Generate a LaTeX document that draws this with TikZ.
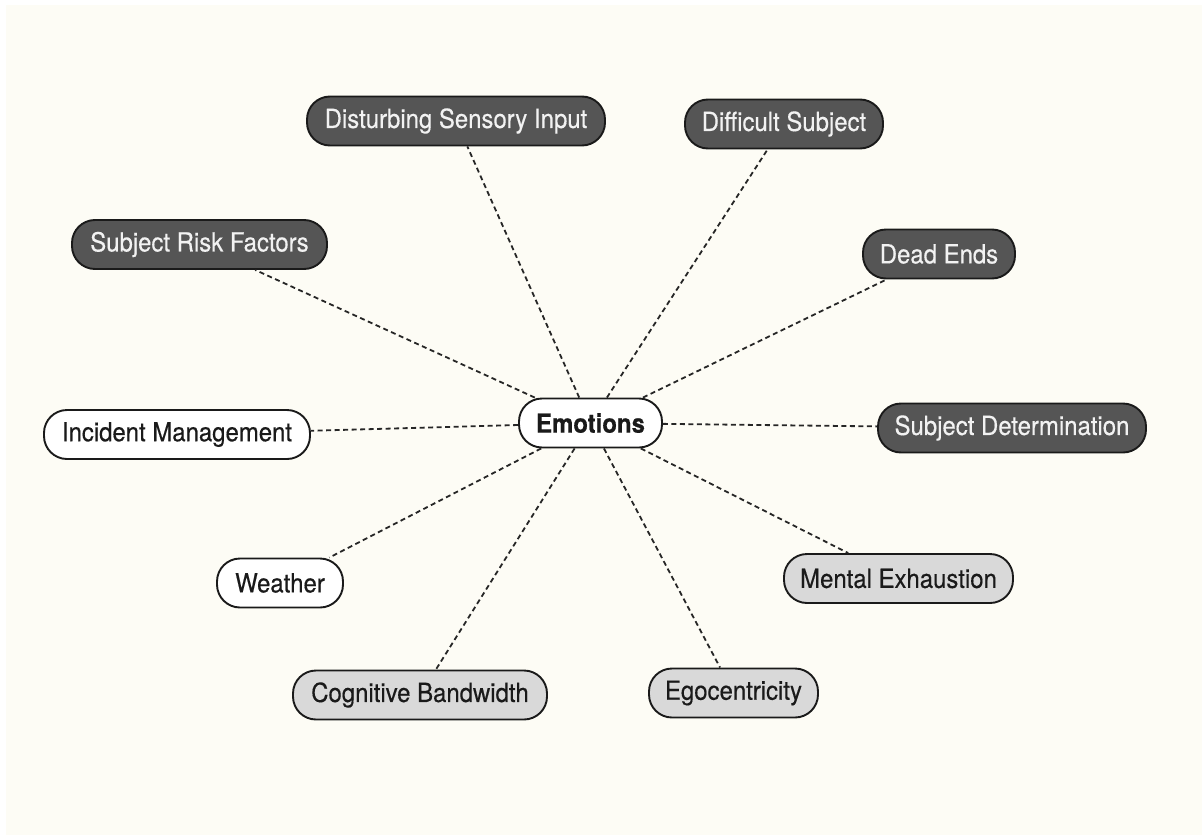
\documentclass[tikz,border=0pt]{standalone}
\usepackage{fontspec}
\setmainfont{TeX Gyre Heros}[FakeStretch=0.91, FakeBold=0.35]
\definecolor{paper}{HTML}{FDFCF5}
\definecolor{darkfill}{HTML}{555555}
\definecolor{lightfill}{HTML}{D9D9D9}
\definecolor{ink}{HTML}{1A1A1A}
\definecolor{linkcol}{HTML}{262626}
\tikzset{
  topic/.style={draw=ink, line width=1.9pt, rounded corners=23pt,
    minimum height=49pt, inner sep=0pt, align=center,
    font=\fontsize{26.3}{30}\selectfont},
  darktopic/.style={topic, fill=darkfill, text=white!95!black},
  lighttopic/.style={topic, fill=lightfill, text=ink},
  plaintopic/.style={topic, fill=white, text=ink},
  hub/.style={plaintopic, font=\fontsize{26.3}{30}\selectfont\bfseries},
  link/.style={draw=linkcol, line width=1.8pt, dash pattern=on 5pt off 3.5pt}
}
\begin{document}
\begin{tikzpicture}[x=1pt,y=-1pt]
  % page and paper background
  \fill[white] (0,0) rectangle (1202,835);
  \fill[paper] (6,5) rectangle (1202,835);
  \useasboundingbox (0,0) rectangle (1202,835);

  % central topic
  \node[hub, minimum width=143pt] (emo) at (590.5,423) {Emotions};

  % surrounding topics
  \node[darktopic, minimum width=298pt] (dsi) at (456,121) {Disturbing Sensory Input};
  \node[darktopic, minimum width=198pt] (dif) at (784,124) {Difficult Subject};
  \node[darktopic, minimum width=255pt] (srf) at (199.5,244.5) {Subject Risk Factors};
  \node[darktopic, minimum width=152pt] (dead) at (939,254) {Dead Ends};
  \node[darktopic, minimum width=268pt] (sdet) at (1012,428) {Subject Determination};
  \node[plaintopic, minimum width=266pt] (inc) at (177,434.5) {Incident Management};
  \node[plaintopic, minimum width=126pt] (wea) at (280,583) {Weather};
  \node[lighttopic, minimum width=229pt] (mex) at (898.5,578.5) {Mental Exhaustion};
  \node[lighttopic, minimum width=254pt] (cog) at (420,695) {Cognitive Bandwidth};
  \node[lighttopic, minimum width=169pt] (ego) at (733.5,693) {Egocentricity};

  % dashed connectors from the hub
  \foreach \t in {dsi,dif,srf,dead,sdet,inc,wea,mex,cog,ego}
    \draw[link] (emo) -- (\t);
\end{tikzpicture}
\end{document}
